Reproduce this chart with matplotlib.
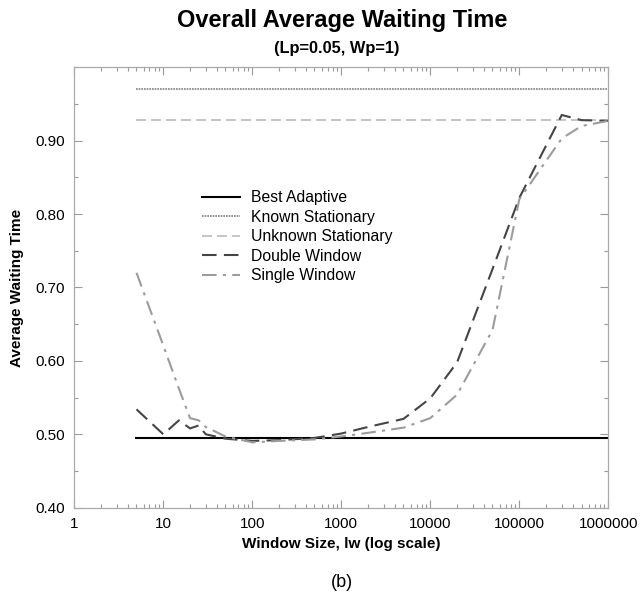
import numpy as np
import matplotlib.pyplot as plt
from matplotlib.ticker import FixedLocator, MultipleLocator, LogLocator, NullFormatter, FuncFormatter

plt.rcParams['font.family'] = ['Liberation Sans', 'DejaVu Sans']

# window sizes (log axis)
window = [5, 10, 15, 20, 25, 30, 50, 100, 200, 500, 1000, 2000, 5000,
          10000, 20000, 50000, 100000, 300000, 500000, 1000000]

best_adaptive = 0.495
known_stationary = 0.971
unknown_stationary = 0.928

double_window = [0.534, 0.500, 0.519, 0.508, 0.512, 0.500, 0.494, 0.491, 0.492, 0.495,
                 0.501, 0.510, 0.521, 0.549, 0.598, 0.725, 0.822, 0.935, 0.928, 0.927]
single_window = [0.720, 0.621, 0.562, 0.522, 0.519, 0.510, 0.497, 0.489, 0.491, 0.493,
                 0.497, 0.502, 0.509, 0.522, 0.554, 0.642, 0.820, 0.903, 0.920, 0.927]

fig = plt.figure(figsize=(6.42, 5.97), dpi=100)
ax = fig.add_axes([0.1157, 0.1496, 0.8318, 0.7377])

xr = [window[0], window[-1]]
ax.plot(xr, [best_adaptive] * 2, color='black', lw=1.5, label='Best Adaptive')
ax.plot(xr, [known_stationary] * 2, color='#808080', lw=1.2, ls=(0, (1, 0.6)),
        label='Known Stationary')
ax.plot(xr, [unknown_stationary] * 2, color='#bcbcbc', lw=1.2, ls=(0, (6, 3)),
        label='Unknown Stationary')
ax.plot(window, double_window, color='#454545', lw=1.5, ls=(0, (7, 3.5)),
        label='Double Window')
ax.plot(window, single_window, color='#9c9c9c', lw=1.5, ls=(0, (7, 3, 1.5, 3)),
        label='Single Window')

ax.set_xscale('log')
ax.set_xlim(1, 1e6)
ax.set_ylim(0.4, 1.0)
ax.xaxis.set_major_locator(FixedLocator([1, 10, 100, 1000, 10000, 100000, 1000000]))
ax.xaxis.set_major_formatter(FuncFormatter(lambda v, p: '%d' % round(v)))
ax.xaxis.set_minor_locator(LogLocator(base=10, subs=np.arange(2, 10), numticks=20))
ax.xaxis.set_minor_formatter(NullFormatter())
ax.yaxis.set_major_locator(FixedLocator([0.4, 0.5, 0.6, 0.7, 0.8, 0.9]))
ax.yaxis.set_major_formatter(FuncFormatter(lambda v, p: '%.2f' % v))
ax.yaxis.set_minor_locator(MultipleLocator(0.05))

ax.tick_params(which='both', direction='in', top=True, right=True,
               color='#999999', labelsize=11, pad=7)
ax.tick_params(which='major', length=6, width=0.8)
ax.tick_params(which='minor', length=3, width=0.8)
for s in ax.spines.values():
    s.set_color('#aaaaaa')
    s.set_linewidth(0.9)

ax.set_xlabel('Window Size, lw (log scale)', fontsize=11, fontweight='bold', labelpad=4)
ax.set_ylabel('Average Waiting Time', fontsize=11, fontweight='bold', labelpad=8)

ax.legend(loc='upper left', bbox_to_anchor=(0.228, 0.735), frameon=False, fontsize=11.3,
          handlelength=2.4, handletextpad=0.7, labelspacing=0.29, borderaxespad=0)

fig.text(0.533, 0.965, 'Overall Average Waiting Time', ha='center', va='center',
         fontsize=17, fontweight='bold')
fig.text(0.525, 0.918, '(Lp=0.05, Wp=1)', ha='center', va='center',
         fontsize=11.8, fontweight='bold')
fig.text(0.532, 0.0235, '(b)', ha='center', va='center', fontsize=13)

fig.savefig('out.png', dpi=100)
